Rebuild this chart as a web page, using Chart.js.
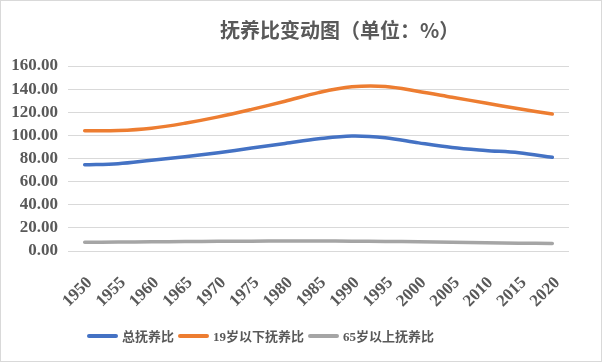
<!DOCTYPE html>
<html>
<head>
<meta charset="utf-8">
<script src="https://cdn.jsdelivr.net/npm/chart.js@4/dist/chart.umd.min.js"></script>
<style>
  html, body { margin: 0; padding: 0; background: #fff; }
  #wrap { position: relative; width: 602px; height: 362px; box-sizing: border-box; border: 1px solid #d9d9d9; }
  #title { position: absolute; left: 219px; top: 14px; font: bold 20px "Noto Sans CJK SC", serif; color: #595959; white-space: nowrap; }
  #chart { position: absolute; left: 0; top: 0; }
  #legend { position: absolute; left: 86px; top: 325px; display: flex; align-items: center; font: bold 13px "Liberation Serif", "Noto Sans CJK SC", serif; color: #595959; white-space: nowrap; }
  #legend .item { display: flex; align-items: center; margin-right: 4px; }
  #legend .swatch { width: 31px; height: 4px; border-radius: 2px; margin-right: 4px; }
</style>
</head>
<body>
<div id="wrap">
  <canvas id="chart" width="600" height="360"></canvas>
  <div id="title">抚养比变动图（单位：%）</div>
  <div id="legend"></div>
</div>
<script>
const years = ['1950', '1955', '1960', '1965', '1970', '1975', '1980', '1985', '1990', '1995', '2000', '2005', '2010', '2015', '2020'];
const totalRatio = [74.6, 75.5, 78.5, 81.5, 85.0, 89.0, 93.0, 97.0, 99.5, 98.0, 93.5, 89.5, 87.0, 85.0, 81.0];
const youngRatio = [104.0, 104.2, 106.2, 110.5, 116.0, 122.5, 129.5, 137.0, 142.0, 142.3, 138.0, 133.0, 128.0, 123.0, 118.5];
const oldRatio = [7.6, 7.7, 8.0, 8.2, 8.4, 8.5, 8.6, 8.6, 8.5, 8.3, 8.0, 7.6, 7.2, 6.8, 6.5];
const seriesNames = ['总抚养比', '19岁以下抚养比', '65岁以上抚养比'];
const seriesColors = ['#4472c4', '#ed7d31', '#a5a5a5'];
const yTicks = [0, 20, 40, 60, 80, 100, 120, 140, 160];

const tickFont = { family: '"Liberation Serif", serif', size: 17, weight: 'bold' };

const chart = new Chart(document.getElementById('chart'), {
  type: 'line',
  data: {
    labels: years,
    datasets: [totalRatio, youngRatio, oldRatio].map((d, i) => ({
      label: seriesNames[i],
      data: d,
      borderColor: seriesColors[i],
      backgroundColor: seriesColors[i],
      borderWidth: 3.5,
      borderCapStyle: 'round',
      pointRadius: 0,
      tension: 0.35,
      fill: false,
    })),
  },
  options: {
    responsive: false,
    animation: false,
    layout: { padding: { left: 7, right: 32, top: 65, bottom: 50 } },
    plugins: {
      legend: { display: false },
      title: { display: false },
      tooltip: { enabled: false },
    },
    scales: {
      x: {
        offset: true,
        grid: { display: false },
        border: { display: false },
        ticks: {
          color: '#595959',
          font: tickFont,
          minRotation: 45,
          maxRotation: 45,
          autoSkip: false,
          padding: 14,
          labelOffset: 5,
        },
        afterFit: (s) => { s.height = 60; },
      },
      y: {
        min: yTicks[0],
        max: yTicks[yTicks.length - 1],
        afterBuildTicks: (s) => { s.ticks = yTicks.map((v) => ({ value: v })); },
        grid: { color: '#d9d9d9', lineWidth: 1, drawTicks: false },
        border: { display: false },
        ticks: {
          color: '#595959',
          font: tickFont,
          padding: 10,
          autoSkip: false,
          callback: (v) => Number(v).toFixed(2),
        },
        afterFit: (s) => { s.width = 60; },
      },
    },
  },
});

const legend = document.getElementById('legend');
chart.data.datasets.forEach((ds) => {
  const item = document.createElement('div');
  item.className = 'item';
  const sw = document.createElement('span');
  sw.className = 'swatch';
  sw.style.background = ds.borderColor;
  const txt = document.createElement('span');
  txt.textContent = ds.label;
  item.appendChild(sw);
  item.appendChild(txt);
  legend.appendChild(item);
});
</script>
</body>
</html>
